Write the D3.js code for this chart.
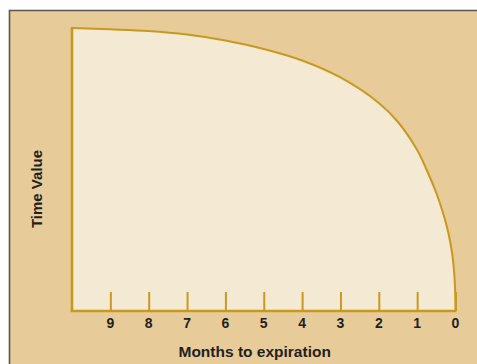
<!DOCTYPE html>
<html><head><meta charset="utf-8">
<script src="https://cdn.jsdelivr.net/npm/d3@7"></script>
<style>html,body{margin:0;padding:0;background:#fff;}svg{display:block;}</style>
</head><body>
<script>
// Months to expiration (x) and time value as % of maximum (y)
const months = [10, 9, 8, 7, 6, 5, 4, 3, 2, 1.5, 1, 0.75, 0.5, 0.375, 0.25, 0.16, 0.09, 0.04, 0.013, 0];
const timeValue = [100, 99.54, 98.94, 97.70, 95.58, 92.58, 88.52, 82.51, 73.50, 66.78, 56.89, 49.82, 41.70, 36.75, 31.10, 25.97, 20.49, 14.49, 8.48, 0];
const tickLabels = [9, 8, 7, 6, 5, 4, 3, 2, 1, 0];
const xTitle = "Months to expiration";
const yTitle = "Time Value";

const W = 477, H = 364;
const bg = "#e7cc99", fill = "#f4e9d3", gold = "#c8981f", ink = "#231f20";

const svg = d3.select("body").append("svg").attr("width", W).attr("height", H);
svg.append("rect").attr("x", 0).attr("y", 0).attr("width", W).attr("height", H).attr("fill", "#fff");
svg.append("rect").attr("x", 9.5).attr("y", 10.5).attr("width", W).attr("height", H).attr("fill", bg);
svg.append("path").attr("d", `M9.5,${H}V10.5H${W}`).attr("fill", "none").attr("stroke", "#5a5555").attr("stroke-width", 1.6);

const x = d3.scaleLinear().domain([10, 0]).range([72, 455.5]);
const y = d3.scaleLinear().domain([0, 100]).range([311, 28]);

const data = months.map((m, i) => ({m, v: timeValue[i]}));
const curve = d3.curveCatmullRom.alpha(0.5);

const area = d3.area().x(d => x(d.m)).y0(y(0)).y1(d => y(d.v)).curve(curve);
svg.append("path").datum(data).attr("d", area).attr("fill", fill);

const line = d3.line().x(d => x(d.m)).y(d => y(d.v)).curve(curve);
svg.append("path").datum(data).attr("d", line).attr("fill", "none").attr("stroke", gold).attr("stroke-width", 2);

// left edge and baseline
svg.append("line").attr("x1", x(10)).attr("x2", x(10)).attr("y1", y(100) - 1).attr("y2", y(0))
  .attr("stroke", gold).attr("stroke-width", 2.6);
svg.append("line").attr("x1", x(10) - 1.3).attr("x2", x(0) + 1).attr("y1", y(0)).attr("y2", y(0))
  .attr("stroke", gold).attr("stroke-width", 2.6);

// ticks
const axis = d3.axisTop(x).tickValues(tickLabels).tickSize(19).tickFormat("");
const ag = svg.append("g").attr("transform", `translate(0,${y(0)})`).call(axis);
ag.select(".domain").remove();
ag.selectAll(".tick line").attr("stroke", gold).attr("stroke-width", 2);

svg.selectAll("text.tl").data(tickLabels).join("text").attr("class", "tl")
  .attr("x", d => x(d)).attr("y", 328.3).attr("text-anchor", "middle")
  .attr("font-family", "Liberation Sans, Arial, sans-serif").attr("font-weight", "bold")
  .attr("font-size", 14).attr("fill", ink).text(d => d);

svg.append("text").attr("x", 254.7).attr("y", 357.3).attr("text-anchor", "middle")
  .attr("font-family", "Liberation Sans, Arial, sans-serif").attr("font-weight", "bold")
  .attr("font-size", 15.5).attr("fill", ink).text(xTitle);

svg.append("text").attr("transform", "translate(41.7,189) rotate(-90)").attr("text-anchor", "middle")
  .attr("font-family", "Liberation Sans, Arial, sans-serif").attr("font-weight", "bold")
  .attr("font-size", 15).attr("fill", ink).text(yTitle);
</script>
</body></html>
